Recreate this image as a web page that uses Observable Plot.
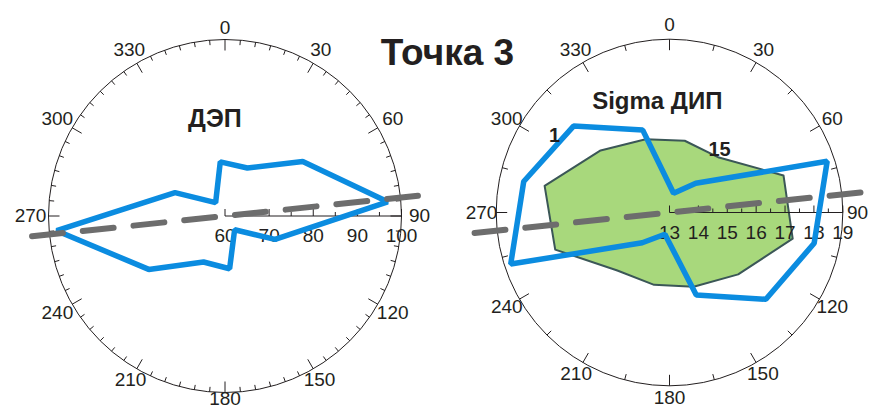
<!DOCTYPE html>
<html>
<head>
<meta charset="utf-8">
<script src="https://cdn.jsdelivr.net/npm/d3@7"></script>
<script src="https://cdn.jsdelivr.net/npm/@observablehq/plot@0.6"></script>
<style>
  body { margin: 0; background: #fff; }
  #wrap { position: relative; width: 872px; height: 408px; display: flex; font-family: "Liberation Sans", Arial, sans-serif; }
  #wrap svg { display: block; }
  #title { position: absolute; left: 0; top: 34px; width: 895px; text-align: center; font-size: 37px; line-height: 37px; font-weight: bold; color: #231f20; pointer-events: none; }
</style>
</head>
<body>
<div id="wrap"><div id="title">Точка 3</div></div>
<script>
// ДЭП: bidirectional rose, radial scale 60–100
const depAngles = [25, 55, 85, 115, 145, 175, 205, 235, 265, 295, 325, 355];
const depValues = [72.0, 81.5, 97.0, 72.5, 63.8, 72.0, 71.5, 81.1, 98.3, 72.5, 63.7, 72.3];
const depTicks = [60, 70, 80, 90, 100];

// Sigma ДИП: series "1" and "15", radial scale 13–19
const dipAngles = [12, 42, 72, 102, 132, 162, 192, 222, 252, 282, 312, 342];
const dip1Values = [13.68, 14.36, 18.74, 18.12, 17.49, 16.0, 13.77, 14.41, 18.78, 18.16, 17.47, 16.0];
const dip15Values = [15.54, 15.56, 17.15, 17.36, 16.2, 15.7, 15.56, 15.7, 17.16, 17.42, 16.21, 15.67];
const dipTicks = [13, 14, 15, 16, 17, 18, 19];

// Azimuth labels and the mean direction shown as a dashed axis
const azimuthLabels = [0, 30, 60, 90, 120, 150, 180, 210, 240, 270, 300, 330];
const meanDirection = 84;

const ink = "#231f20";
const blue = "#0b8ce0";
const green = "#a8d87c";
const greenEdge = "#3b5757";
const dashGray = "#6d6d6d";
const labelSize = 19;

const rad = (a) => a * Math.PI / 180;

// polar (azimuth clockwise from north, radius in value units) -> plane
function toPlane(angles, values, vmin) {
  return angles.map((a, i) => ({
    x: (values[i] - vmin) * Math.sin(rad(a)),
    y: (values[i] - vmin) * Math.cos(rad(a))
  }));
}

function polarChart(o) {
  const span = o.vmax - o.vmin;
  const k = o.R / span;                 // pixels per value unit
  const u = (px) => px / k;             // pixels -> value units
  const pol = (az, r) => ({x: r * Math.sin(rad(az)), y: r * Math.cos(rad(az))});

  const azTicks = d3.range(0, 360, o.azStep).map((a) => {
    const len = a % 30 === 0 ? 11 : o.minorLen;
    const p1 = pol(a, span - u(len)), p2 = pol(a, span);
    return {x1: p1.x, y1: p1.y, x2: p2.x, y2: p2.y};
  });
  const azText = azimuthLabels.map((a) => ({text: String(a), ...pol(a, u(o.labelR(a)))}));

  const radial = d3.range(o.vmin, o.vmax + 1e-9, o.majorStep / 2).map((v) => ({
    x: v - o.vmin,
    major: Math.abs(v - Math.round(v / o.majorStep) * o.majorStep) < 1e-9
  }));
  const radialText = o.ticks.map((v) => ({x: v - o.vmin, y: 0, text: String(v)}));

  const dash = [pol(meanDirection, u(o.dashEnds[0])), pol(meanDirection, -u(o.dashEnds[1]))];

  const marks = [
    Plot.dot([0], {x: () => 0, y: () => 0, r: o.R, stroke: ink, strokeWidth: 1, fill: "none"}),
    Plot.link(azTicks, {x1: "x1", y1: "y1", x2: "x2", y2: "y2", stroke: ink, strokeWidth: 1}),
    Plot.text(azText, {x: "x", y: "y", text: "text", fontSize: labelSize, fill: ink})
  ];
  if (o.fillSeries) {
    marks.push(Plot.line(o.fillSeries, {x: "x", y: "y", curve: "linear-closed", fill: green, stroke: greenEdge, strokeWidth: 2}));
  }
  marks.push(
    Plot.link([0], {x1: () => 0, y1: () => 0, x2: () => span, y2: () => 0, stroke: ink, strokeWidth: 1}),
    Plot.link(radial, {x1: "x", x2: "x", y1: () => 0, y2: (d) => u(d.major ? 7 : 4), stroke: ink, strokeWidth: 1}),
    Plot.text(radialText, {x: "x", y: "y", text: "text", dy: 20, fontSize: labelSize, fill: ink}),
    Plot.line(o.lineSeries, {x: "x", y: "y", curve: "linear-closed", stroke: blue, strokeWidth: 5.5, strokeLinejoin: "miter"}),
    Plot.line(dash, {x: "x", y: "y", stroke: dashGray, strokeWidth: 6, strokeDasharray: "31,20"})
  );
  for (const t of o.notes) {
    marks.push(Plot.text([t.text], {
      frameAnchor: "top-left", textAnchor: "middle", lineAnchor: "middle",
      dx: t.x, dy: t.y, text: (d) => d, fontSize: t.size, fontWeight: "bold", fill: ink
    }));
  }

  return Plot.plot({
    width: o.width,
    height: o.height,
    margin: 0,
    x: {domain: [-u(o.cx), u(o.width - o.cx)], axis: null},
    y: {domain: [-u(o.height - o.cy), u(o.cy)], axis: null},
    style: {fontFamily: '"Liberation Sans", Arial, sans-serif', color: ink, background: "transparent", overflow: "visible"},
    marks
  });
}

const leftChart = polarChart({
  width: 440, height: 408, cx: 224.5, cy: 215.5, R: 176.5,
  vmin: 60, vmax: 100, majorStep: 10, ticks: depTicks,
  azStep: 5, minorLen: 5,
  labelR: (a) => 188.5 + 6 * Math.abs(Math.sin(rad(a))) - 6 * Math.max(0, -Math.cos(rad(a))) ** 6,
  dashEnds: [194, 202],
  lineSeries: toPlane(depAngles, depValues, 60),
  notes: [{text: "ДЭП", x: 214.4, y: 118.7, size: 25}]
});

const rightChart = polarChart({
  width: 432, height: 408, cx: 229, cy: 212, R: 173.3,
  vmin: 13, vmax: 19, majorStep: 1, ticks: dipTicks,
  azStep: 15, minorLen: 6,
  labelR: (a) => 188 - 3 * Math.max(0, -Math.cos(rad(a))) ** 6,
  dashEnds: [192, 202],
  fillSeries: toPlane(dipAngles, dip15Values, 13),
  lineSeries: toPlane(dipAngles, dip1Values, 13),
  notes: [
    {text: "Sigma ДИП", x: 216.8, y: 100.8, size: 24},
    {text: "1", x: 114, y: 135.3, size: 20},
    {text: "15", x: 279, y: 148.6, size: 20}
  ]
});

const wrap = document.getElementById("wrap");
wrap.insertBefore(rightChart, wrap.firstChild);
wrap.insertBefore(leftChart, rightChart);
</script>
</body>
</html>
